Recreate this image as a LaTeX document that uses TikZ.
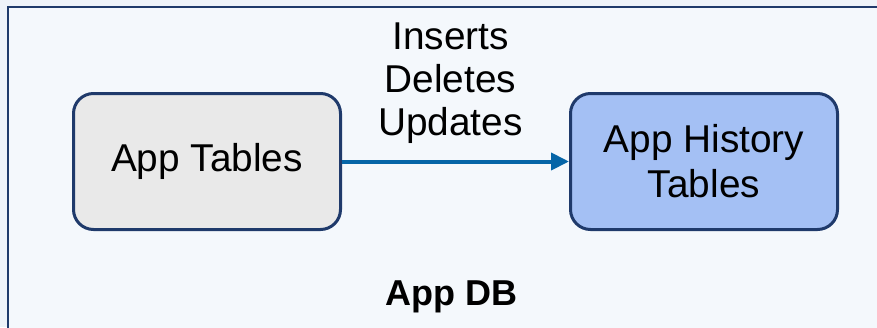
\documentclass[tikz,border=0pt]{standalone}
\usepackage{fontspec}
\setmainfont{Liberation Sans}
\usetikzlibrary{arrows.meta}

\definecolor{navy}{HTML}{1F3A6B}
\definecolor{pagebg}{HTML}{EEF3F9}
\definecolor{dbfill}{HTML}{F4F8FC}
\definecolor{grayfill}{HTML}{E9E9E9}
\definecolor{bluefill}{HTML}{A4C0F4}
\definecolor{flow}{HTML}{0565A7}

\begin{document}
\begin{tikzpicture}[x=1pt,y=-1pt,
    tablebox/.style={draw=navy, line width=3pt, rounded corners=20pt,
        minimum width=267pt, minimum height=136pt, inner sep=0pt, align=center,
        font=\fontsize{38.8}{45}\selectfont},
    flowline/.style={draw=flow, line width=4pt, -{Triangle[length=18pt,width=17pt]}}]
    \useasboundingbox (0,0) rectangle (877,327);
    \clip (0,0) rectangle (877,327);
    \fill [pagebg] (0,0) rectangle (877,327);
    % the database frame runs off the right and bottom
    \draw [navy, line width=2.4pt, fill=dbfill] (8,7) rectangle (900,350);
    \node [tablebox, fill=grayfill] (tables) at (207,161.5) {App Tables};
    \node [tablebox, fill=bluefill] (history) at (704,161.5) {App History\\Tables};
    \draw [flowline] (tables) -- node [above=16pt, xshift=-5pt, inner sep=0pt, align=center,
        font=\fontsize{38.8}{43}\selectfont] (ops) {Inserts\\Deletes\\Updates} (history);
    \node [anchor=base, font=\fontsize{36}{40}\selectfont\bfseries] (db) at (451.5,305) {App DB};
\end{tikzpicture}
\end{document}
